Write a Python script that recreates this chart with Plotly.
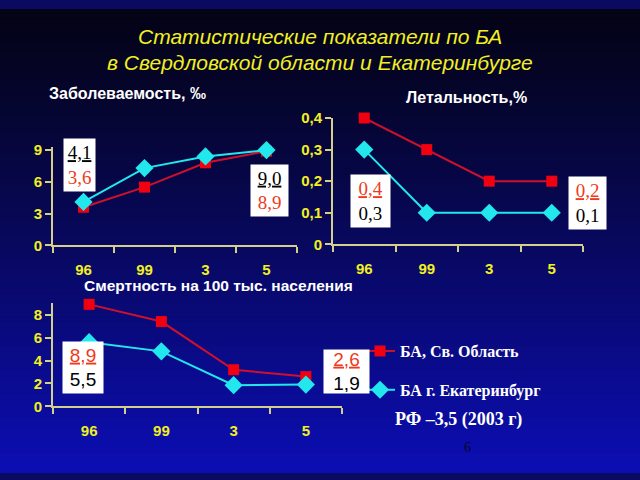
import plotly.graph_objects as go

# ---- data ----
years = ["96", "99", "3", "5"]
morb_region = [3.6, 5.5, 7.8, 8.9]
morb_city = [4.1, 7.3, 8.4, 9.0]
leth_region = [0.4, 0.3, 0.2, 0.2]
leth_city = [0.3, 0.1, 0.1, 0.1]
mort_region = [8.9, 7.4, 3.2, 2.6]
mort_city = [5.6, 4.8, 1.85, 1.9]
name_region = "БА, Св. Область"
name_city = "БА г. Екатеринбург"

W, H = 640, 480
RED = "#f00010"
REDLINE = "#d0102a"
CYAN = "#22e8ee"
AXIS = "#d2d08a"
TICK = "#f2f020"

fig = go.Figure()

def add_pair(xa, ya, yr, yc, show):
    fig.add_trace(go.Scatter(x=years, y=yr, mode="lines+markers", name=name_region,
                             xaxis=xa, yaxis=ya, showlegend=show, legendgroup="r",
                             cliponaxis=False,
                             line=dict(color=REDLINE, width=2),
                             marker=dict(symbol="square", size=11, color=RED)))
    fig.add_trace(go.Scatter(x=years, y=yc, mode="lines+markers", name=name_city,
                             xaxis=xa, yaxis=ya, showlegend=show, legendgroup="c",
                             cliponaxis=False,
                             line=dict(color=CYAN, width=2),
                             marker=dict(symbol="diamond", size=14, color=CYAN)))

add_pair("x", "y", morb_region, morb_city, True)
add_pair("x2", "y2", leth_region, leth_city, False)
add_pair("x3", "y3", mort_region, mort_city, False)

def px(v):
    return v / W

def py(v):
    return 1 - v / H

xcommon = dict(type="category", showline=True, linecolor=AXIS, linewidth=2,
               showgrid=False, zeroline=False, ticks="outside", tickson="boundaries",
               tickcolor=AXIS, ticklen=6, tickwidth=2, range=[-0.5, 3.5],
               tickfont=dict(family="Liberation Sans", size=15, color=TICK, weight="bold"),
               ticklabelstandoff=10)
ycommon = dict(showline=True, linecolor=AXIS, linewidth=2, showgrid=False,
               zeroline=False, ticks="outside", tickcolor=AXIS, ticklen=6, tickwidth=2,
               tickfont=dict(family="Liberation Sans", size=15, color=TICK, weight="bold"))

# background gradient
shapes = []
N = 96
top = (4, 3, 22)
bot = (12, 14, 180)
for i in range(N):
    t = (i + 0.5) / N
    c = tuple(int(round(top[k] + (bot[k] - top[k]) * (t ** 1.15))) for k in range(3))
    shapes.append(dict(type="rect", xref="paper", yref="paper", layer="below",
                       x0=0, x1=1, y0=1 - (i + 1) / N - 0.002, y1=1 - i / N,
                       fillcolor="rgb(%d,%d,%d)" % c, line=dict(width=0)))

annotations = []

def box(cx, cy, top_txt, bot_txt, top_col, bot_col, fam, w, h):
    annotations.append(dict(
        x=px(cx), y=py(cy), xref="paper", yref="paper", showarrow=False,
        xanchor="center", yanchor="middle",
        text="<span style='color:%s;text-decoration:underline'>%s</span><br><span style='color:%s'>%s</span>" % (top_col, top_txt, bot_col, bot_txt),
        font=dict(family=fam, size=19), bgcolor="white", width=w, height=h,
        align="center", valign="middle"))

BLK = "#000000"
ORR = "#f03a20"
box(79.5, 162, "4,1", "3,6", BLK, ORR, "Liberation Serif", 29, 50)
box(269.5, 188.5, "9,0", "8,9", BLK, ORR, "Liberation Serif", 35, 49)
box(370.5, 199, "0,4", "0,3", ORR, BLK, "Liberation Serif", 37, 50)
box(587.5, 201, "0,2", "0,1", ORR, BLK, "Liberation Serif", 35, 50)
box(83, 371.5, "8,9", "5,5", ORR, BLK, "Liberation Sans", 38, 49)
box(346.5, 375.5, "2,6", "1,9", ORR, BLK, "Liberation Sans", 43, 41)

def label(x, y, txt, size, color="white", fam="Liberation Sans", bold=True, italic=False,
          xanchor="left"):
    annotations.append(dict(x=px(x), y=py(y), xref="paper", yref="paper", showarrow=False,
                            text=txt, xanchor=xanchor, yanchor="middle",
                            font=dict(family=fam, size=size, color=color,
                                      weight="bold" if bold else "normal",
                                      style="italic" if italic else "normal")))

label(320, 28, "Статистические показатели по БА", 21, color=TICK, bold=False, italic=True,
      xanchor="center")
label(320, 55, "в Свердловской области и Екатеринбурге", 21, color=TICK, bold=False,
      italic=True, xanchor="center")
label(47, 88, "Заболеваемость, ‰", 16)
label(404, 92, "Летальность,%", 16)
label(82, 287, "Смертность на 100 тыс. населения", 15.5)
label(393, 426, "РФ –3,5 (2003 г)", 18, fam="Liberation Serif")
label(467, 455, "6", 14, color="#05052e", fam="Liberation Serif", bold=False, xanchor="center")

fig.update_layout(
    width=W, height=H, margin=dict(l=0, r=0, t=0, b=0),
    paper_bgcolor="#0a0a60", plot_bgcolor="rgba(0,0,0,0)",
    shapes=shapes, annotations=annotations,
    xaxis=dict(domain=[px(53), px(297)], anchor="y", **xcommon),
    yaxis=dict(domain=[py(245), py(143)], anchor="x", range=[0, 9.3],
               tickvals=[0, 3, 6, 9], **ycommon),
    xaxis2=dict(domain=[px(333), px(583)], anchor="y2", **xcommon),
    yaxis2=dict(domain=[py(244), py(113)], anchor="x2", range=[0, 0.4],
                tickvals=[0, 0.1, 0.2, 0.3, 0.4], ticktext=["0", "0,1", "0,2", "0,3", "0,4"],
                **ycommon),
    xaxis3=dict(domain=[px(53), px(342)], anchor="y3", **xcommon),
    yaxis3=dict(domain=[py(412), py(305)], anchor="x3", range=[0, 9],
                tickvals=[0, 2, 4, 6, 8], **ycommon),
    legend=dict(x=px(360), y=py(337), xanchor="left", yanchor="top",
                bgcolor="rgba(0,0,0,0)", tracegroupgap=15, itemwidth=30,
                font=dict(family="Liberation Serif", size=16, color="white", weight="bold")),
    showlegend=True,
)

fig.write_html("out.html")
